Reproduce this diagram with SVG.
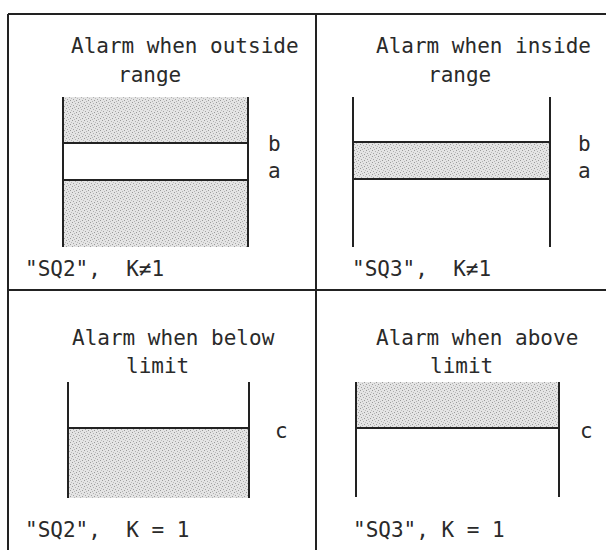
<svg xmlns="http://www.w3.org/2000/svg" width="606" height="550" viewBox="0 0 606 550">
<defs>
<pattern id="stip" width="6" height="6" patternUnits="userSpaceOnUse">
<rect width="6" height="6" fill="#e4e4e4"/>
<rect x="0" y="0" width="1" height="1" fill="#9a9a9a"/>
<rect x="3" y="1" width="1" height="1" fill="#b0b0b0"/>
<rect x="1" y="3" width="1" height="1" fill="#a4a4a4"/>
<rect x="4" y="4" width="1" height="1" fill="#9a9a9a"/>
<rect x="5" y="2" width="1" height="1" fill="#bcbcbc"/>
<rect x="2" y="5" width="1" height="1" fill="#b4b4b4"/>
</pattern>
<style>
.t{font-family:"DejaVu Sans Mono","Liberation Mono",monospace;font-size:21px;fill:#2a2a2a;white-space:pre}
.frame{stroke:#222;stroke-width:2;fill:none}
.bar{stroke:#222;stroke-width:2;fill:none}
.sh{fill:url(#stip)}
</style>
</defs>
<rect width="606" height="550" fill="#ffffff"/>
<g id="frame">
<line class="frame" x1="8" y1="14" x2="606" y2="14"/>
<line class="frame" x1="8" y1="14" x2="8" y2="550"/>
<line class="frame" x1="316" y1="14" x2="316" y2="550"/>
<line class="frame" x1="8" y1="290" x2="606" y2="290"/>
</g>
<g id="panel-outside">
<text class="t" x="71" y="53">Alarm when outside</text>
<text class="t" x="118" y="82">range</text>
<rect class="sh" x="63" y="97" width="185" height="46"/>
<rect class="sh" x="63" y="180" width="185" height="67"/>
<line class="bar" x1="63" y1="97" x2="63" y2="247"/>
<line class="bar" x1="248" y1="97" x2="248" y2="247"/>
<line class="bar" x1="63" y1="143" x2="248" y2="143"/>
<line class="bar" x1="63" y1="180" x2="248" y2="180"/>
<text class="t" x="268" y="151">b</text>
<text class="t" x="268" y="178">a</text>
<text class="t" x="25" y="276">"SQ2",  K≠1</text>
</g>
<g id="panel-inside">
<text class="t" x="376" y="53">Alarm when inside</text>
<text class="t" x="428" y="82">range</text>
<rect class="sh" x="353" y="142" width="197" height="37"/>
<line class="bar" x1="353" y1="97" x2="353" y2="247"/>
<line class="bar" x1="550" y1="97" x2="550" y2="247"/>
<line class="bar" x1="353" y1="142" x2="550" y2="142"/>
<line class="bar" x1="353" y1="179" x2="550" y2="179"/>
<text class="t" x="578" y="151">b</text>
<text class="t" x="578" y="178">a</text>
<text class="t" x="352" y="276">"SQ3",  K≠1</text>
</g>
<g id="panel-below">
<text class="t" x="72" y="345">Alarm when below</text>
<text class="t" x="126" y="373">limit</text>
<rect class="sh" x="68" y="428" width="181" height="70"/>
<line class="bar" x1="68" y1="382" x2="68" y2="498"/>
<line class="bar" x1="249" y1="382" x2="249" y2="498"/>
<line class="bar" x1="68" y1="428" x2="249" y2="428"/>
<text class="t" x="275" y="438">c</text>
<text class="t" x="25" y="537">"SQ2",  K = 1</text>
</g>
<g id="panel-above">
<text class="t" x="376" y="345">Alarm when above</text>
<text class="t" x="430" y="373">limit</text>
<rect class="sh" x="356" y="382" width="203" height="46"/>
<line class="bar" x1="356" y1="382" x2="356" y2="497"/>
<line class="bar" x1="559" y1="382" x2="559" y2="497"/>
<line class="bar" x1="356" y1="428" x2="559" y2="428"/>
<text class="t" x="580" y="438">c</text>
<text class="t" x="353" y="537">"SQ3", K = 1</text>
</g>
<g id="connectors"></g>
</svg>
